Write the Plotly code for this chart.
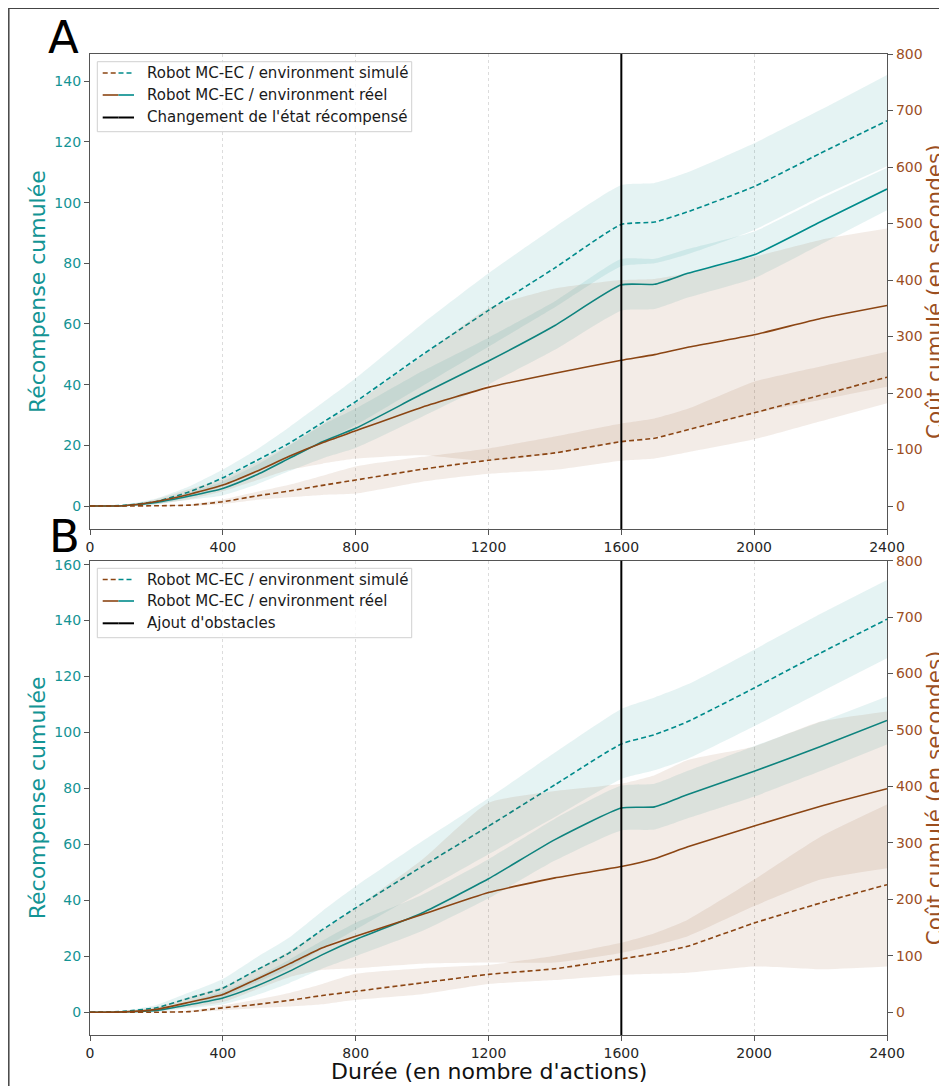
import plotly.graph_objects as go

# ---------------- data ----------------
X = [0, 100, 200, 300, 400, 500, 600, 700, 800, 1000, 1200, 1400, 1600, 1700, 1800, 2000, 2200, 2400]
CHANGE_X = 1600

# Panel A - reward (left axis)
A_rew_sim = [0, 0.2, 1.5, 4.7, 9.3, 14.9, 20.7, 27.5, 34.4, 49.8, 64.5, 78.5, 92.8, 93.6, 97.0, 105.3, 116.3, 127.0]
A_rew_sim_hi = [0, 0.4, 2.5, 6.5, 12.0, 18.5, 26.0, 34.0, 42.1, 60.0, 76.7, 92.0, 105.8, 106.5, 110.0, 119.6, 130.6, 142.1]
A_rew_sim_lo = [0, 0, 0.5, 3.0, 6.5, 11.3, 15.5, 21.0, 26.7, 39.5, 52.5, 65.5, 79.0, 80.0, 83.0, 91.0, 102.0, 112.0]
A_rew_real = [0, 0.1, 1.2, 3.3, 5.8, 10.2, 15.7, 21.2, 25.6, 36.9, 47.8, 59.5, 72.9, 73.1, 76.7, 82.8, 93.7, 104.5]
A_rew_real_hi = [0, 0.2, 1.8, 4.5, 8.1, 13.4, 19.9, 26.7, 32.1, 44.4, 55.5, 67.5, 81.4, 81.5, 84.7, 90.5, 101.2, 111.5]
A_rew_real_lo = [0, 0, 0.6, 2.1, 3.5, 7.0, 11.5, 15.7, 19.1, 29.4, 40.1, 51.5, 64.4, 64.9, 68.7, 75.1, 86.2, 97.5]
# Panel A - cost (right axis)
A_cost_sim = [0, 0, 0.5, 1.5, 7.6, 17.7, 26.5, 36.6, 46, 65, 81, 94, 114, 120, 135, 165, 196, 228]
A_cost_sim_hi = [0, 0, 1, 3, 11.6, 24.7, 37.5, 53.6, 70, 87, 102, 123, 146, 155, 172, 220, 247, 273]
A_cost_sim_lo = [0, 0, 0, 0, 3.6, 10.7, 15.5, 19.6, 22, 43, 57, 64, 80, 84, 95, 118, 150, 182]
A_cost_real = [0, 0.5, 8, 21, 37, 61, 88, 112, 133, 175, 210, 235, 258, 268, 281, 303, 332, 355]
A_cost_real_hi = [0, 1, 12, 30, 48, 77, 108, 145, 182, 265, 350, 385, 400, 402, 412, 441, 471, 491]
A_cost_real_lo = [0, 0, 4, 12, 26, 45, 64, 75, 84, 90, 80, 93, 114, 122, 135, 164, 188, 211]

# Panel B - reward (left axis)
B_rew_sim = [0, 0.3, 1.6, 5.1, 8.6, 15, 21.2, 29.5, 37.3, 52.1, 66.5, 81.3, 95.9, 99.2, 103.9, 115.9, 128.4, 140.5]
B_rew_sim_hi = [0, 0.5, 2.6, 7.1, 11.9, 19.5, 26.7, 36.2, 45, 61.1, 76.5, 92.8, 108.4, 112.5, 117.2, 129.6, 142.4, 154.5]
B_rew_sim_lo = [0, 0.1, 0.6, 3.1, 5.3, 10.5, 15.7, 22.8, 29.6, 43.1, 56.5, 69.8, 83.4, 86.5, 90.6, 102.2, 114.4, 126.5]
B_rew_real = [0, 0.1, 0.6, 2.7, 5.1, 9.3, 14.6, 20.6, 26, 35.5, 47.7, 61.7, 73, 73.4, 77.8, 86.1, 95, 104.3]
B_rew_real_hi = [0, 0.2, 1.1, 3.9, 7.4, 12.5, 18.8, 25.6, 32, 42, 54.7, 69.2, 81, 81.7, 86.3, 95.1, 103.8, 112.9]
B_rew_real_lo = [0, 0, 0.1, 1.5, 2.8, 6.1, 10.4, 15.6, 20, 29, 40.7, 54.2, 65, 65.3, 69.3, 77.1, 86.2, 95.7]
# Panel B - cost (right axis)
B_cost_sim = [0, 0, 0, 1, 7.7, 13.6, 21, 29.6, 37, 52, 67, 77, 94.5, 104, 117, 158, 193.6, 226]
B_cost_sim_hi = [0, 0, 0.5, 3, 12, 22, 34, 50, 68, 78, 84, 100, 123, 140, 164, 235, 311, 368]
B_cost_sim_lo = [0, 0, 0, 0, 3.5, 7, 10, 14, 22, 32, 50, 57, 66, 68, 70, 81, 76, 81]
B_cost_real = [0, 0.5, 5, 17.7, 31.3, 58, 85.6, 114, 134.5, 173, 212, 238, 258, 272, 293, 330, 365, 396]
B_cost_real_hi = [0, 1, 9, 27, 45, 75, 108, 145, 185, 270, 371, 392, 405, 420, 447, 471, 515, 533]
B_cost_real_lo = [0, 0, 2, 9, 18, 40, 62, 75, 78, 86, 88, 88, 105, 118, 134.5, 188, 235, 255]

X_TICKS = [0, 400, 800, 1200, 1600, 2000, 2400]
A_LEFT_TICKS = [0, 20, 40, 60, 80, 100, 120, 140]
B_LEFT_TICKS = [0, 20, 40, 60, 80, 100, 120, 140, 160]
RIGHT_TICKS = [0, 100, 200, 300, 400, 500, 600, 700, 800]

LEGEND_A = ["Robot MC-EC / environment simulé", "Robot MC-EC / environment réel", "Changement de l'état récompensé"]
LEGEND_B = ["Robot MC-EC / environment simulé", "Robot MC-EC / environment réel", "Ajout d'obstacles"]
X_TITLE = "Durée (en nombre d'actions)"
YL_TITLE = "Récompense cumulée"
YR_TITLE = "Coût cumulé (en secondes)"

# ---------------- style ----------------
TEAL = "#008b8b"
BROWN = "#8b4513"
TEAL_TXT = "#139494"
BROWN_TXT = "#9c4f1f"
TEAL_FILL = "rgba(0,139,139,0.10)"
BROWN_FILL = "rgba(139,69,19,0.10)"
SPINE = "#555555"
FONT = "DejaVu Sans"
DASH = "5px,3px"

OFF = 8  # page body margin
W, H = 947 - OFF, 1086 - OFF
ML, MR, MT, MB = 90 - OFF, 60, 54 - OFF, 51
PW, PH = W - ML - MR, H - MT - MB


def pxx(p):  # page pixel -> paper x
    return (p - OFF - ML) / PW


def pxy(p):  # page pixel -> paper y
    return (H - MB - (p - OFF)) / PH


fig = go.Figure()


def band(lo, hi, color, xa, ya):
    fig.add_trace(go.Scatter(x=X, y=hi, mode="lines", line=dict(width=0, shape="spline", smoothing=0.5),
                             xaxis=xa, yaxis=ya, showlegend=False, hoverinfo="skip"))
    fig.add_trace(go.Scatter(x=X, y=lo, mode="lines", line=dict(width=0, shape="spline", smoothing=0.5),
                             fill="tonexty", fillcolor=color,
                             xaxis=xa, yaxis=ya, showlegend=False, hoverinfo="skip"))


def line(y, color, dash, xa, ya):
    fig.add_trace(go.Scatter(x=X, y=y, mode="lines",
                             line=dict(color=color, width=1.6, dash=dash, shape="spline", smoothing=0.5),
                             xaxis=xa, yaxis=ya, showlegend=False))


panels = [
    ("x", "y", "y2", A_rew_sim, A_rew_sim_lo, A_rew_sim_hi, A_rew_real, A_rew_real_lo, A_rew_real_hi,
     A_cost_sim, A_cost_sim_lo, A_cost_sim_hi, A_cost_real, A_cost_real_lo, A_cost_real_hi),
    ("x2", "y3", "y4", B_rew_sim, B_rew_sim_lo, B_rew_sim_hi, B_rew_real, B_rew_real_lo, B_rew_real_hi,
     B_cost_sim, B_cost_sim_lo, B_cost_sim_hi, B_cost_real, B_cost_real_lo, B_cost_real_hi),
]
for (xa, yl, yr, rs, rsl, rsh, rr, rrl, rrh, cs, csl, csh, cr, crl, crh) in panels:
    band(rsl, rsh, TEAL_FILL, xa, yl)
    band(rrl, rrh, TEAL_FILL, xa, yl)
    line(rs, TEAL, DASH, xa, yl)
    line(rr, TEAL, "solid", xa, yl)
    band(csl, csh, BROWN_FILL, xa, yr)
    band(crl, crh, BROWN_FILL, xa, yr)
    line(cs, BROWN, DASH, xa, yr)
    line(cr, BROWN, "solid", xa, yr)

yA0 = pxy(529.3)
yB1 = pxy(560.7)

xcommon = dict(range=[0, 2400], tickvals=X_TICKS, showgrid=True, gridcolor="#dcdcdc", griddash="dot",
               gridwidth=1, showline=True, linecolor=SPINE, linewidth=1.3, mirror=True,
               ticks="outside", ticklen=5, tickcolor=SPINE, zeroline=False, automargin=False,
               tickfont=dict(family=FONT, size=14, color="#262626"))
ylcommon = dict(showgrid=False, zeroline=False, showline=True, linecolor=SPINE, linewidth=1.3,
                ticks="outside", ticklen=5, tickcolor=SPINE, automargin=False,
                tickfont=dict(family=FONT, size=14, color=TEAL_TXT))
yrcommon = dict(showgrid=False, zeroline=False, showline=True, linecolor=SPINE, linewidth=1.3,
                ticks="outside", ticklen=5, tickcolor=SPINE, side="right", automargin=False,
                tickfont=dict(family=FONT, size=14, color=BROWN_TXT), tickvals=RIGHT_TICKS)

fig.update_layout(
    width=W, height=H, margin=dict(l=ML, r=MR, t=MT, b=MB, autoexpand=False),
    paper_bgcolor="white", plot_bgcolor="white", showlegend=False,
    font=dict(family=FONT),
    xaxis=dict(domain=[0, 1], anchor="y", **xcommon),
    xaxis2=dict(domain=[0, 1], anchor="y3", **xcommon),
    yaxis=dict(domain=[yA0, 1], anchor="x", range=[-7.68, 149.0], tickvals=A_LEFT_TICKS,
               title=dict(text=YL_TITLE, font=dict(family=FONT, size=22, color=TEAL_TXT), standoff=2),
               **ylcommon),
    yaxis2=dict(overlaying="y", anchor="x", range=[-41.2, 800],
                title=dict(text=YR_TITLE, font=dict(family=FONT, size=21.5, color=BROWN_TXT), standoff=1),
                **yrcommon),
    yaxis3=dict(domain=[0, yB1], anchor="x2", range=[-8.14, 161.4], tickvals=B_LEFT_TICKS,
                title=dict(text=YL_TITLE, font=dict(family=FONT, size=22, color=TEAL_TXT), standoff=2),
                **ylcommon),
    yaxis4=dict(overlaying="y3", anchor="x2", range=[-40.4, 800],
                title=dict(text=YR_TITLE, font=dict(family=FONT, size=21.5, color=BROWN_TXT), standoff=1),
                **yrcommon),
)

shapes = []
annotations = []
# vertical event line in each panel
for xa, ya in [("x", "y"), ("x2", "y3")]:
    shapes.append(dict(type="line", xref=xa, yref=ya + " domain", x0=CHANGE_X, x1=CHANGE_X, y0=0, y1=1,
                       line=dict(color="black", width=2)))

# custom legends (two-colour samples)
for labels, box_top, box_bot, rows in [
    (LEGEND_A, 61.7, 131.7, [73, 95, 117.5]),
    (LEGEND_B, 568.3, 637.7, [579.5, 601, 623.3]),
]:
    shapes.append(dict(type="rect", xref="paper", yref="paper", x0=pxx(97.3), x1=pxx(411.7),
                       y0=pxy(box_bot), y1=pxy(box_top), fillcolor="rgba(255,255,255,0.8)",
                       line=dict(color="#d0d0d0", width=1)))
    styles = [(BROWN, TEAL, DASH), (BROWN, TEAL, "solid"), ("black", "black", "solid")]
    for (c1, c2, d), r, lab in zip(styles, rows, labels):
        shapes.append(dict(type="line", xref="paper", yref="paper", x0=pxx(102.7), x1=pxx(118.5),
                           y0=pxy(r), y1=pxy(r), line=dict(color=c1, width=2 if c1 == "black" else 1.6, dash=d)))
        shapes.append(dict(type="line", xref="paper", yref="paper", x0=pxx(118.5), x1=pxx(134),
                           y0=pxy(r), y1=pxy(r), line=dict(color=c2, width=2 if c2 == "black" else 1.6, dash=d)))
        annotations.append(dict(text=lab, xref="paper", yref="paper", x=pxx(145), y=pxy(r),
                                xanchor="left", yanchor="middle", showarrow=False,
                                font=dict(family=FONT, size=15, color="#1a1a1a")))

# x axis title (bottom)
annotations.append(dict(text=X_TITLE, xref="paper", yref="paper", x=0.5, y=pxy(1071), xanchor="center",
                        yanchor="middle", showarrow=False, font=dict(family=FONT, size=22, color="#111")))

# panel letters
annotations.append(dict(text="A", xref="paper", yref="paper", x=pxx(63), y=pxy(38), xanchor="center",
                        yanchor="middle", showarrow=False, font=dict(family=FONT, size=45, color="black")))
annotations.append(dict(text="B", xref="paper", yref="paper", x=pxx(64.5), y=pxy(536.5), xanchor="center",
                        yanchor="middle", showarrow=False, font=dict(family=FONT, size=45, color="black")))

# outer figure frame
shapes.append(dict(type="rect", xref="paper", yref="paper", x0=pxx(8.8), x1=pxx(990), y0=pxy(1130), y1=pxy(8.3),
                   line=dict(color="#444444", width=1.5), fillcolor="rgba(0,0,0,0)", layer="below"))

fig.update_layout(shapes=shapes, annotations=annotations)
fig.write_html("out.html")
